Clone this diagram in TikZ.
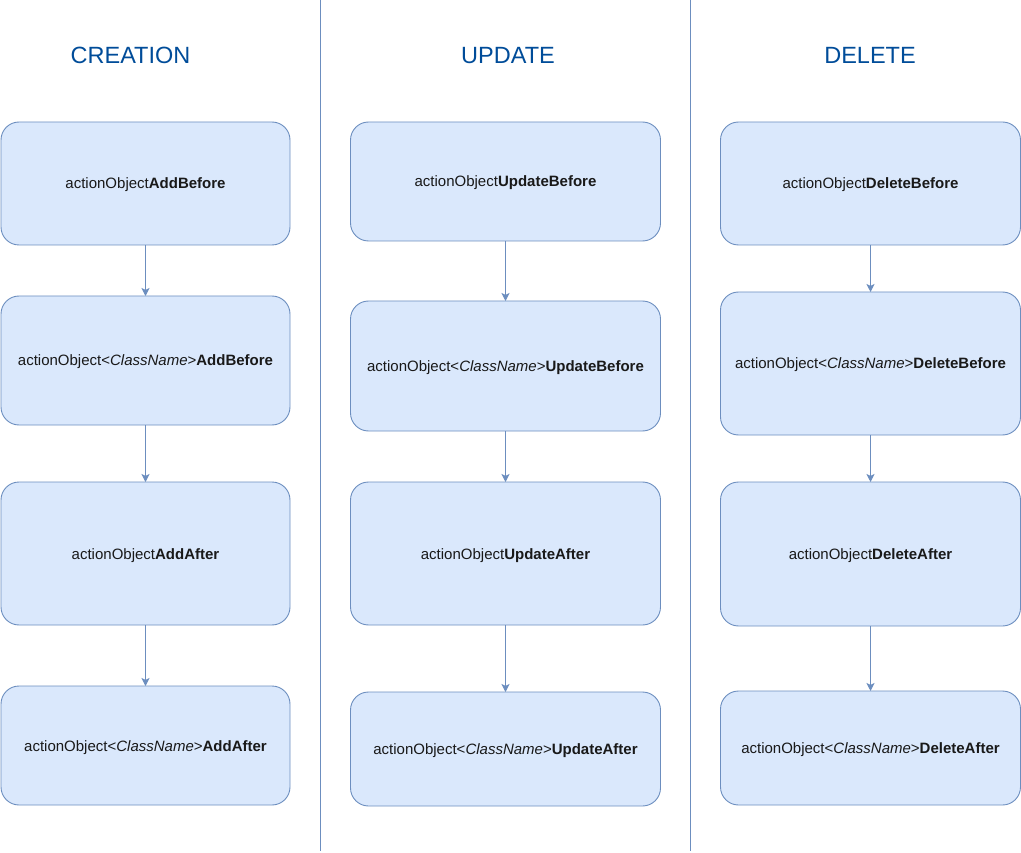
\documentclass[tikz,border=0pt]{standalone}
\usepackage{fontspec}
\setmainfont{Liberation Sans}
\usetikzlibrary{arrows.meta}
\definecolor{boxfill}{HTML}{DAE8FC}
\definecolor{boxline}{HTML}{6C8EBF}
\definecolor{titleblue}{HTML}{004C99}
\begin{document}
\begin{tikzpicture}[x=1pt,y=-1pt,
  box/.style={draw=boxline,fill=boxfill,line width=0.9pt,rounded corners=18pt,
    inner sep=0pt,outer sep=0pt,text height=14pt,text depth=3pt,
    font=\fontsize{15}{18}\selectfont,text=black!90},
  title/.style={anchor=base,text=titleblue,font=\fontsize{23.5}{28}\selectfont},
  conn/.style={draw=boxline,line width=0.9pt,-{Stealth[length=8pt,width=8pt,inset=2pt]}},
  divider/.style={draw=boxline,line width=0.9pt}]
\useasboundingbox (0,0) rectangle (1021,853);
% dividers
\coordinate (v1t) at (320,0); \coordinate (v1b) at (320,851);
\coordinate (v2t) at (690,0); \coordinate (v2b) at (690,851);
\draw[divider] (v1t) -- (v1b);
\draw[divider] (v2t) -- (v2b);
% titles
\node[title] (tc) at (130.5,64) {CREATION};
\node[title] (tu) at (508,64) {UPDATE};
\node[title] (td) at (870,64) {DELETE};
% creation
\node[box,minimum width=289pt,minimum height=123pt] (c1) at (145.5,183.5) {actionObject\textbf{AddBefore}};
\node[box,minimum width=289pt,minimum height=129pt] (c2) at (145.5,360.5) {actionObject<\textit{ClassName}>\textbf{AddBefore}};
\node[box,minimum width=289pt,minimum height=143pt] (c3) at (145.5,553.5) {actionObject\textbf{AddAfter}};
\node[box,minimum width=289pt,minimum height=119pt] (c4) at (145.5,745.5) {actionObject<\textit{ClassName}>\textbf{AddAfter}};
% update
\node[box,minimum width=310pt,minimum height=119pt] (u1) at (505.5,181.5) {actionObject\textbf{UpdateBefore}};
\node[box,minimum width=310pt,minimum height=130pt] (u2) at (505.5,366) {actionObject<\textit{ClassName}>\textbf{UpdateBefore}};
\node[box,minimum width=310pt,minimum height=143pt] (u3) at (505.5,553.5) {actionObject\textbf{UpdateAfter}};
\node[box,minimum width=310pt,minimum height=114pt] (u4) at (505.5,749) {actionObject<\textit{ClassName}>\textbf{UpdateAfter}};
% delete
\node[box,minimum width=300pt,minimum height=123pt] (d1) at (870.5,183.5) {actionObject\textbf{DeleteBefore}};
\node[box,minimum width=300pt,minimum height=143pt] (d2) at (870.5,363.5) {actionObject<\textit{ClassName}>\textbf{DeleteBefore}};
\node[box,minimum width=300pt,minimum height=144pt] (d3) at (870.5,554) {actionObject\textbf{DeleteAfter}};
\node[box,minimum width=300pt,minimum height=114pt] (d4) at (870.5,748) {actionObject<\textit{ClassName}>\textbf{DeleteAfter}};
% connectors
\draw[conn] (c1.south) -- (c2.north);
\draw[conn] (c2.south) -- (c3.north);
\draw[conn] (c3.south) -- (c4.north);
\draw[conn] (u1.south) -- (u2.north);
\draw[conn] (u2.south) -- (u3.north);
\draw[conn] (u3.south) -- (u4.north);
\draw[conn] (d1.south) -- (d2.north);
\draw[conn] (d2.south) -- (d3.north);
\draw[conn] (d3.south) -- (d4.north);
\end{tikzpicture}
\end{document}
